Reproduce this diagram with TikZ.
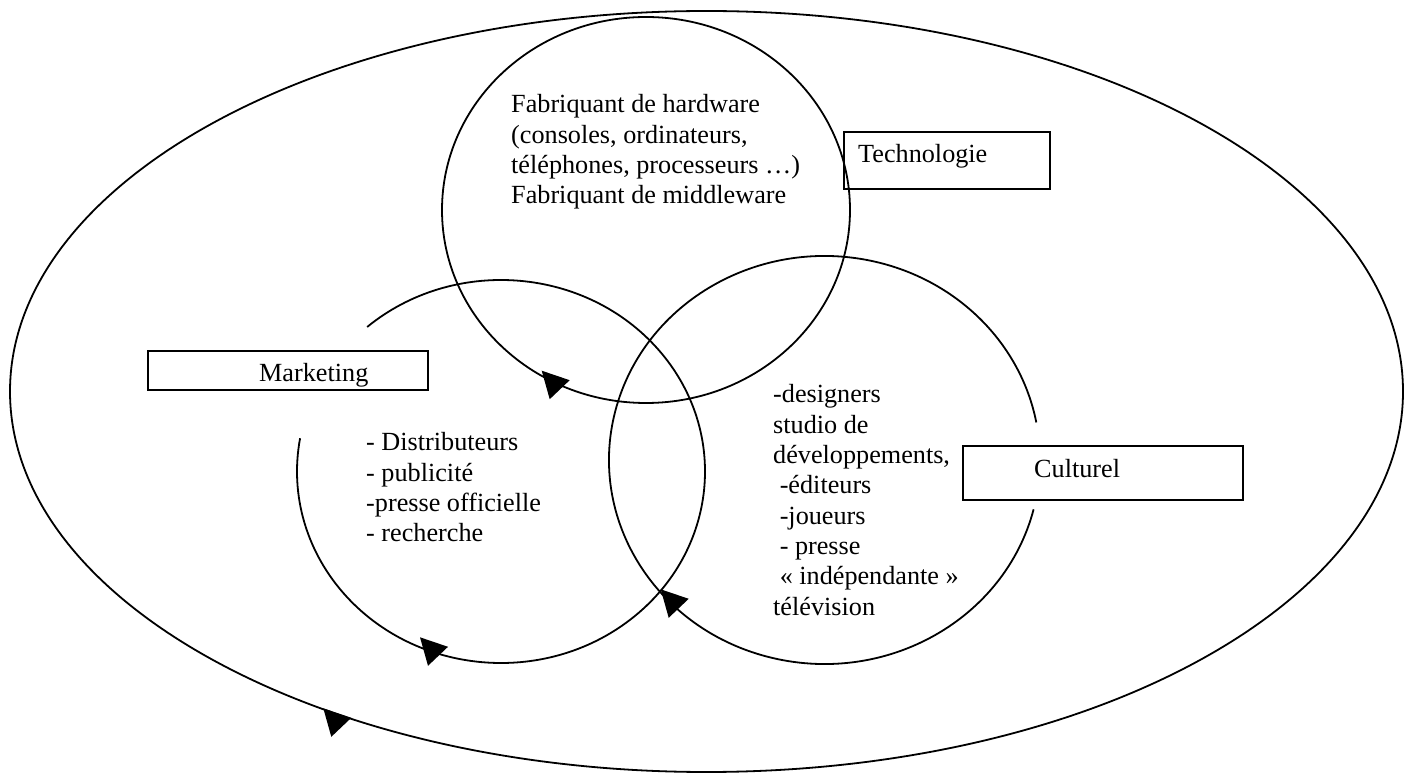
\documentclass[tikz,border=0pt]{standalone}
\usepackage{fontspec}
\setmainfont{Liberation Serif}
\begin{document}
\begin{tikzpicture}[x=1pt,y=1pt]
\tikzset{
  ring/.style={line width=1.8pt},
  boxstyle/.style={draw, line width=2pt, inner sep=0pt, anchor=south west},
  arrowhd/.pic={\fill (0,0) -- (28,-9.5) -- (8,-28.5) -- cycle;},
  txt/.style={anchor=base west, inner sep=0pt, font=\fontsize{26.2}{30.3}\selectfont},
}
\useasboundingbox (0,0) rectangle (1407,774);

% outer ellipse
\draw[ring] (706.5,382.5) ellipse [x radius=696.5, y radius=380.5];
\pic at (323.3,65.7) {arrowhd};

% Technologie circle
\draw[ring] (646,564) ellipse [x radius=204, y radius=193];
\pic at (541.7,403.3) {arrowhd};

% Marketing arc (gap upper left)
\draw[ring] (501,302.5) ++(131:204 and 191.5)
  arc[start angle=131, end angle=-190, x radius=204, y radius=191.5];
\pic at (420,136.7) {arrowhd};

% Culturel arc (gap on the right)
\draw[ring] (824.5,314) ++(-14:215.5 and 204)
  arc[start angle=-14, end angle=-349.4, x radius=215.5, y radius=204];
\pic at (660.7,184.7) {arrowhd};

% label boxes
\node[boxstyle, minimum width=206, minimum height=57] (techbox) at (843,584) {};
\node[txt] (techlbl) at (858,611) {Technologie};

\node[boxstyle, minimum width=280, minimum height=39] (mktbox) at (147,383) {};
\node[txt] (mktlbl) at (259,392) {Marketing};

\node[boxstyle, minimum width=280, minimum height=54] (culbox) at (962,273) {};
\node[txt] (cullbl) at (1034,296) {Culturel};

% contents
\node[txt] (techtxt) at (511,661) {\vtop{%
  \hbox{Fabriquant de hardware}%
  \hbox{(consoles, ordinateurs,}%
  \hbox{téléphones, processeurs …)}%
  \hbox{Fabriquant de middleware}}};

\node[txt] (mkttxt) at (366,323) {\vtop{%
  \hbox{- Distributeurs}%
  \hbox{- publicité}%
  \hbox{-presse officielle}%
  \hbox{- recherche}}};

\node[txt] (cultxt) at (773,371) {\vtop{%
  \hbox{-designers}%
  \hbox{studio de}%
  \hbox{développements,}%
  \hbox{\ -éditeurs}%
  \hbox{\ -joueurs}%
  \hbox{\ - presse}%
  \hbox{\ « indépendante »}%
  \hbox{télévision}}};
\end{tikzpicture}
\end{document}
